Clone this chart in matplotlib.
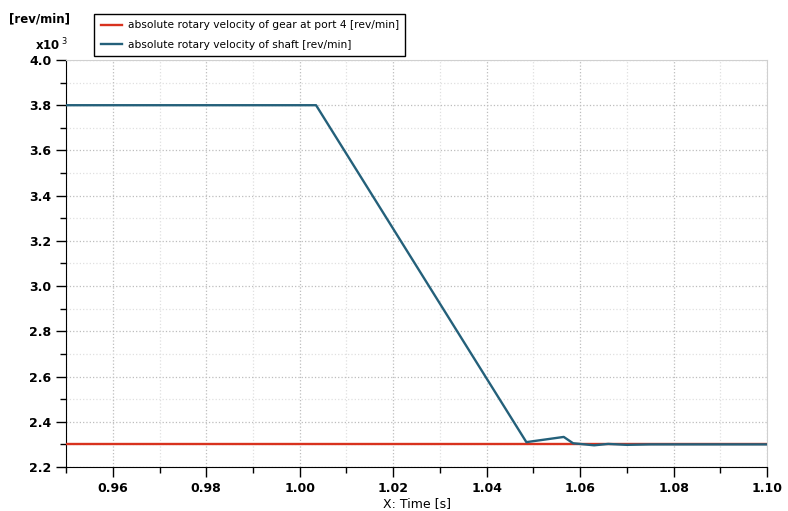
import numpy as np
import matplotlib.pyplot as plt
from matplotlib.ticker import MultipleLocator

# time points and values (values in x10^3 rev/min)
time_gear = [0.95, 1.10]
speed_gear = [2.300, 2.300]

time_shaft = [0.95, 1.0035, 1.0485, 1.0565, 1.0585, 1.060, 1.063, 1.066, 1.070, 1.075, 1.10]
speed_shaft = [3.800, 3.800, 2.310, 2.333, 2.305, 2.302, 2.296, 2.302, 2.298, 2.300, 2.300]

labels = ['absolute rotary velocity of gear at port 4 [rev/min]',
          'absolute rotary velocity of shaft [rev/min]']

fig = plt.figure(figsize=(7.88, 5.11), dpi=100)
ax = fig.add_axes([0.0838, 0.0861, 0.8896, 0.7965])

l1, = ax.plot(time_gear, speed_gear, color='#d8321e', linewidth=1.7, zorder=3)
l2, = ax.plot(time_shaft, speed_shaft, color='#24607a', linewidth=1.7, zorder=4)

ax.set_xlim(0.95, 1.10)
ax.set_ylim(2.2, 4.0)
ax.xaxis.set_minor_locator(MultipleLocator(0.01))
ax.yaxis.set_minor_locator(MultipleLocator(0.1))
ax.set_xticks(np.arange(0.96, 1.101, 0.02))
ax.set_xticklabels(['%.2f' % v for v in np.arange(0.96, 1.101, 0.02)], fontweight='bold', fontsize=9)
ax.set_yticks(np.arange(2.2, 4.01, 0.2))
ax.set_yticklabels(['%.1f' % v for v in np.arange(2.2, 4.01, 0.2)], fontweight='bold', fontsize=9)

ax.tick_params(which='major', direction='out', length=7, width=1, color='black')
ax.tick_params(which='minor', direction='out', length=4, width=1, color='black')
ax.grid(True, which='major', linestyle=':', color='#bdbdbd', linewidth=0.9)
ax.grid(True, which='minor', linestyle=':', color='#e0e0e0', linewidth=0.9)

ax.spines['top'].set_color('#d0d0d0')
ax.spines['right'].set_color('#d0d0d0')
ax.spines['left'].set_color('black')
ax.spines['bottom'].set_color('black')

ax.set_xlabel('X: Time [s]', fontsize=9, labelpad=2)

fig.text(0.011, 0.962, '[rev/min]', fontsize=8.5, fontweight='bold', va='center')
fig.text(0.045, 0.912, r'x10$^{\ 3}$', fontsize=8.5, fontweight='bold', va='center')

fig.legend([l1, l2], labels, loc='upper left', bbox_to_anchor=(0.113, 0.983),
           fontsize=7.7, frameon=True, fancybox=False, edgecolor='black',
           framealpha=1, handlelength=2.0, borderpad=0.6, labelspacing=0.9,
           handletextpad=0.5)

plt.savefig('out.png', dpi=100)
